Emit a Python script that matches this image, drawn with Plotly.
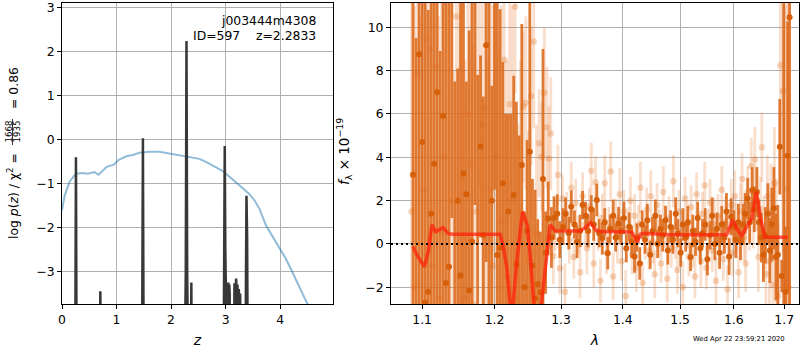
import plotly.graph_objects as go

# ---------------- left panel data: log p(z) ----------------
z_prior = [0.00, 0.05, 0.14, 0.23, 0.29, 0.38, 0.47, 0.60, 0.67, 0.76, 0.82, 0.95, 1.03, 1.18,
           1.30, 1.42, 1.60, 1.79, 1.97, 2.15, 2.33, 2.52, 2.64, 2.83, 2.95, 3.04, 3.13, 3.25,
           3.34, 3.43, 3.53, 3.62, 3.74, 3.86, 3.98, 4.10, 4.22, 4.34, 4.50, 4.60]
lp_prior = [-1.61, -1.27, -0.96, -0.81, -0.77, -0.76, -0.78, -0.74, -0.80, -0.70, -0.62, -0.57,
            -0.47, -0.38, -0.35, -0.30, -0.28, -0.28, -0.32, -0.36, -0.41, -0.44, -0.51, -0.64,
            -0.72, -0.81, -0.91, -1.04, -1.15, -1.23, -1.38, -1.57, -1.95, -2.20, -2.44, -2.70,
            -3.00, -3.31, -3.74, -4.00]

z_fit = [0.00, 0.240, 0.256, 0.270, 0.690, 0.703, 0.716, 1.465, 1.484, 1.500,
         2.245, 2.270, 2.283, 2.296, 2.320, 2.360, 2.372, 2.384,
         2.960, 2.975, 2.985, 2.995, 3.010, 3.035, 3.050, 3.060, 3.068, 3.075, 3.085,
         3.150, 3.163, 3.175, 3.194, 3.206, 3.218, 3.230, 3.242, 3.255, 3.267, 3.280,
         3.360, 3.372, 3.383, 3.395, 3.410, 4.97]
lp_fit = [-6, -6, -0.40, -6, -6, -3.45, -6, -6, 0.03, -6,
          -6, -3.0, 2.24, -3.0, -6, -6, -3.25, -6,
          -6, -2.5, -0.15, -2.5, -6, -6, -3.25, -3.6, -3.3, -3.5, -6,
          -6, -3.27, -3.9, -3.16, -3.8, -3.30, -3.9, -3.40, -3.9, -3.5, -6,
          -6, -2.0, -1.28, -2.2, -6, -6]

# ---------------- right panel data: spectrum ----------------
wave_dark = [1.088, 1.092, 1.096, 1.100, 1.104, 1.108, 1.112, 1.116, 1.120, 1.124,
             1.128, 1.132, 1.136, 1.140, 1.144, 1.148, 1.152, 1.156, 1.160, 1.164,
             1.168, 1.172, 1.176, 1.180, 1.184, 1.188, 1.192, 1.196, 1.200, 1.204,
             1.208, 1.212, 1.216, 1.220, 1.224, 1.228, 1.232, 1.236, 1.240, 1.244,
             1.248, 1.252, 1.256, 1.260, 1.264, 1.268, 1.272, 1.276,
             1.280, 1.285, 1.289, 1.294, 1.298, 1.303, 1.307, 1.312, 1.316, 1.321,
             1.325, 1.330, 1.334, 1.339, 1.343, 1.348, 1.352, 1.357, 1.361, 1.366,
             1.370, 1.375, 1.379, 1.384, 1.388, 1.393, 1.397, 1.402, 1.406, 1.411,
             1.415, 1.420, 1.424, 1.429, 1.433, 1.438, 1.442, 1.447, 1.451, 1.456,
             1.460, 1.465, 1.469, 1.474, 1.478, 1.483, 1.487, 1.492, 1.496, 1.501,
             1.505, 1.510, 1.514, 1.519, 1.523, 1.528, 1.532, 1.537, 1.541, 1.546,
             1.550, 1.555, 1.559, 1.564, 1.568, 1.573, 1.577, 1.582, 1.586, 1.591,
             1.595, 1.600, 1.604, 1.609, 1.613, 1.618, 1.622, 1.627, 1.631, 1.636,
             1.640, 1.645, 1.649, 1.654, 1.658, 1.662, 1.667, 1.671, 1.675, 1.679,
             1.683, 1.687, 1.691, 1.695, 1.699, 1.703, 1.707, 1.711]
flux_dark = [3.2, -3.5, 8.75, 4.7, -2.7, -2.2, 1.4, 3.7, 7.0, -3.1,
             5.9, -1.8, -1.05, 12.2, -4.5, 2.0, -1.46, 3.26, 2.29, -2.15,
             0.1, 11.8, -3.2, 4.5, 0.4, 9.17, -3.8, 2.0, 12.5, -0.51,
             -0.17, 2.8, -4.0, 1.5, -3.5, 2.26, -0.94, -5.0, 3.65, -2.0,
             0.6, 4.26, -1.0, -2.5, -1.86, -2.23, 3.0, -0.4,
             1.18, 0.3, 1.2, 1.39, 0.2, 0.8, 1.4, 0.5, 1.72, 0.9,
             0.1, 0.6, 1.8, 1.3, 0.6, 1.6, 0.9, 2.03, 0.5, 0.26,
             1.0, -0.43, 0.7, 1.3, 0.3, 0.95, 0.6, 1.2, -0.2, 0.8,
             0.1, -0.58, 0.3, -0.9, 0.9, 0.2, 1.1, -0.5, 0.6, 1.3,
             0.0, 0.7, 0.4, 1.1, -0.3, 0.8, 0.2, 1.4, 0.5, -0.4,
             0.9, 0.3, 1.0, -0.6, 0.6, 0.1, 1.2, -0.2, 0.5, 0.9,
             -0.7, 0.4, 1.3, 0.0, 0.7, -0.4, 0.9, 0.3, 1.5, -0.58,
             1.26, 0.8, 0.2, 1.0, 0.1, 0.9, 1.4, 2.1, 1.0, 2.49,
             1.6, 2.4, 1.0, 0.3, -0.5, 0.4, 1.4, -0.3, 0.9, 1.65,
             -0.6, -0.5, 4.49, -1.48, -3.0, -2.2, 4.07, 10.46]
err_dark = [15, 13, 12, 14, 14, 13, 12, 11, 13, 12,
            12, 13, 14, 11, 12, 6.1, 13, 12, 5.2, 12,
            11.5, 10, 11, 4.2, 6.4, 10, 15, 5.3, 10, 12,
            11, 5.6, 10, 4.5, 9.5, 5.5, 7.5, 10, 6.5, 3.5,
            4.2, 7.2, 4.0, 5.0, 3.0, 2.8, 6.0, 1.9,
            1.7, 1.4, 1.0, 0.9, 0.85, 0.85, 0.75, 0.75, 0.75, 0.65,
            0.75, 0.75, 0.65, 0.65, 0.75, 0.65, 0.75, 0.75, 0.65, 0.75,
            0.65, 0.75, 0.65, 0.75, 0.65, 0.75, 0.65, 0.75, 0.65, 0.65,
            0.75, 0.75, 0.65, 0.75, 0.65, 0.65, 0.75, 0.65, 0.65, 0.75,
            0.65, 0.65, 0.75, 0.65, 0.65, 0.75, 0.65, 0.75, 0.65, 0.65,
            0.75, 0.65, 0.75, 0.65, 0.75, 0.65, 0.75, 0.75, 0.65, 0.75,
            0.75, 0.65, 0.85, 0.75, 0.75, 0.75, 0.85, 0.75, 0.85, 0.85,
            0.85, 0.75, 0.85, 0.85, 0.85, 0.95, 0.95, 0.95, 0.95, 1.05,
            1.05, 1.15, 1.05, 1.15, 1.25, 1.3, 1.4, 1.5, 1.7, 1.9,
            2.0, 2.3, 2.2, 0.75, 15, 3.0, 6.2, 14]

wave_light = [1.086, 1.090, 1.094, 1.098, 1.102, 1.106, 1.110, 1.114, 1.118, 1.122,
              1.126, 1.130, 1.134, 1.138, 1.142, 1.146, 1.150, 1.154, 1.158, 1.162,
              1.166, 1.170, 1.174, 1.178, 1.182, 1.186, 1.190, 1.194, 1.198, 1.202,
              1.206, 1.210, 1.214, 1.218, 1.222, 1.226, 1.230, 1.234, 1.238, 1.242,
              1.246, 1.250, 1.254, 1.258, 1.262, 1.266, 1.270, 1.274, 1.278,
              1.281, 1.284, 1.288, 1.291, 1.295, 1.298, 1.302, 1.306, 1.309, 1.313,
              1.316, 1.320, 1.323, 1.327, 1.330, 1.334, 1.338, 1.341, 1.345, 1.348,
              1.352, 1.355, 1.359, 1.363, 1.366, 1.370, 1.373, 1.377, 1.380, 1.384,
              1.388, 1.391, 1.395, 1.398, 1.402, 1.405, 1.409, 1.413, 1.416, 1.420,
              1.423, 1.427, 1.430, 1.434, 1.438, 1.441, 1.445, 1.448, 1.452, 1.455,
              1.459, 1.463, 1.466, 1.470, 1.473, 1.477, 1.480, 1.484, 1.488, 1.491,
              1.495, 1.498, 1.502, 1.505, 1.509, 1.513, 1.516, 1.520, 1.523, 1.527,
              1.530, 1.534, 1.538, 1.541, 1.545, 1.548, 1.552, 1.555, 1.559, 1.563,
              1.566, 1.570, 1.573, 1.577, 1.580, 1.584, 1.588, 1.591, 1.595, 1.598,
              1.602, 1.605, 1.609, 1.613, 1.616, 1.620, 1.623, 1.627, 1.630, 1.634,
              1.638, 1.641, 1.645, 1.648, 1.652, 1.655, 1.659, 1.663, 1.666, 1.670,
              1.673, 1.677, 1.680, 1.684, 1.688, 1.692, 1.697, 1.701, 1.705, 1.709]
flux_light = [1.5, -2.0, 7.85, -3.5, 2.5, 9.5, 9.0, -1.0, 8.2, -2.5,
              0.5, 4.0, -3.0, 2.0, -4.0, 10.5, -1.5, 3.0, -2.5, 6.0,
              3.72, -2.8, 1.5, 12.5, 5.5, 6.26, -3.5, 2.5, -1.0, 4.0,
              -2.0, 1.0, 8.5, -1.5, 6.45, 2.0, 10.95, -2.5, 1.5, 6.34,
              6.5, -0.8, 6.83, 9.34, 0.5, 4.65, 4.03, 6.98, 5.38,
              3.95, 5.1, -0.55, 0.9, 3.18, -1.12, 2.1, -2.2, 1.4, 0.2,
              2.6, -0.6, 1.9, 0.4, -1.3, 2.2, 0.9, -0.2, 1.7, 3.38,
              -0.9, 2.85, 0.6, -1.7, 1.2, 2.8, -0.4, 0.8, 3.34, -1.5,
              1.1, 0.2, 2.3, -0.8, 1.5, -2.4, 0.7, 2.0, -0.5, 1.3,
              -1.1, 0.9, 2.6, -1.8, 0.4, 1.6, -0.3, 2.2, 0.1, -1.4,
              1.8, 0.5, -0.9, 2.4, 0.8, -1.6, 1.2, -0.2, 2.9, 0.3,
              -1.2, 1.5, 0.6, -2.0, 2.1, 0.9, -0.6, 1.7, 0.0, -1.5,
              2.3, 0.4, -0.8, 1.4, 2.7, -1.1, 0.7, 1.9, -0.3, 0.9,
              -1.7, 1.3, 0.2, 2.5, -0.7, 1.0, -2.1, 0.6, 1.8, -0.4,
              2.2, 0.8, -1.3, 1.5, 3.0, 0.3, -0.9, 2.4, 1.1, 3.6,
              1.2, 3.9, 2.0, -0.6, 1.6, 4.46, 0.5, -1.4, 2.2, -0.8,
              1.5, -1.9, 2.8, 0.0, -2.4, 8.25, 7.06, -1.0, 2.5, -2.0]
err_light = [14, 13, 12, 14, 12, 13, 12, 14, 11, 13,
             12, 13, 14, 11, 12, 10, 13, 12, 11, 12,
             11, 12, 13, 10, 11, 10, 12, 11, 12, 10,
             11, 10, 9, 10, 5, 9, 4.0, 8, 7, 3.5,
             4.0, 6, 3.2, 4.0, 5, 2.5, 2.5, 3.0, 2.8,
             2.4, 2.6, 1.3, 1.2, 1.4, 1.2, 1.1, 1.3, 1.0, 1.1,
             1.2, 1.0, 1.1, 0.9, 1.2, 1.1, 1.0, 1.2, 0.9, 1.3,
             1.1, 1.2, 0.9, 1.0, 1.1, 1.3, 1.0, 0.9, 1.4, 1.1,
             1.0, 1.1, 1.2, 0.9, 1.0, 1.2, 1.0, 1.1, 0.9, 1.0,
             1.1, 0.9, 1.2, 1.0, 1.1, 1.0, 0.9, 1.2, 1.0, 1.1,
             1.0, 1.1, 0.9, 1.2, 1.0, 1.1, 1.0, 0.9, 1.2, 1.0,
             1.1, 1.0, 0.9, 1.2, 1.0, 1.1, 0.9, 1.0, 1.1, 1.0,
             1.0, 1.1, 1.2, 1.0, 1.1, 1.0, 0.9, 1.1, 1.0, 1.2,
             1.1, 1.0, 1.2, 1.1, 1.0, 1.2, 1.1, 1.0, 1.2, 1.1,
             1.2, 1.1, 1.2, 1.3, 1.2, 1.1, 1.3, 1.2, 1.4, 1.3,
             1.4, 1.5, 1.4, 1.6, 1.5, 1.6, 1.7, 1.8, 1.9, 2.0,
             2.2, 2.4, 2.6, 3.0, 3.4, 6.0, 7.5, 12, 9, 14]

wave_model = [1.088, 1.093, 1.103, 1.108, 1.113, 1.118, 1.128, 1.135, 1.140, 1.208,
              1.212, 1.218, 1.225, 1.233, 1.241, 1.248, 1.253, 1.260, 1.268, 1.276,
              1.283, 1.291, 1.330, 1.338, 1.347, 1.356, 1.365, 1.415, 1.420, 1.425,
              1.430, 1.436, 1.480, 1.586, 1.598, 1.606, 1.615, 1.625, 1.635, 1.644,
              1.652, 1.661, 1.707]
flux_model = [-0.12, -0.51, -1.05, -0.35, 0.88, 0.57, 0.75, 0.49, 0.45, 0.45,
              0.0, -1.12, -3.5, -0.66, 1.49, 0.88, -0.66, -3.5, -3.2, -1.1,
              0.88, 0.61, 0.60, 0.75, 0.98, 0.62, 0.57, 0.55, 0.35, 0.08,
              0.45, 0.49, 0.43, 0.42, 1.11, 0.70, 0.37, 0.75, 1.18, 2.41,
              1.20, 0.31, 0.31]

wave_ticks = [1.1, 1.2, 1.3, 1.4, 1.5, 1.6, 1.7]

# ---------------- figure ----------------
FONT = "DejaVu Sans"
FS = 12.4
W, H = 800, 350
L, R, T, B = 62, 1, 3, 46
PW, PH = W - L - R, H - T - B

def px(xp):
    return (xp - L) / PW

def py(yp):
    return (H - B - yp) / PH

fig = go.Figure()

fig.add_trace(go.Scatter(x=z_prior, y=lp_prior, mode="lines",
                         line=dict(color="rgba(31,119,180,0.5)", width=2),
                         xaxis="x", yaxis="y", showlegend=False, hoverinfo="skip"))
fig.add_trace(go.Scatter(x=z_fit, y=lp_fit, mode="lines",
                         line=dict(color="#383838", width=2.5),
                         xaxis="x", yaxis="y", showlegend=False, hoverinfo="skip"))

fig.add_trace(go.Scatter(x=wave_light, y=flux_light, mode="markers",
                         marker=dict(color="rgba(222,110,30,0.28)", size=6.5, line=dict(width=0)),
                         error_y=dict(type="data", array=err_light, visible=True,
                                      color="rgba(230,125,50,0.25)", thickness=2.8, width=0),
                         xaxis="x2", yaxis="y2", showlegend=False, hoverinfo="skip"))
fig.add_trace(go.Scatter(x=wave_dark, y=flux_dark, mode="markers",
                         marker=dict(color="rgb(214,96,10)", size=6, line=dict(width=0)),
                         error_y=dict(type="data", array=err_dark, visible=True,
                                      color="rgba(220,105,25,0.88)", thickness=2.8, width=0),
                         xaxis="x2", yaxis="y2", showlegend=False, hoverinfo="skip"))
fig.add_trace(go.Scatter(x=wave_model, y=flux_model, mode="lines",
                         line=dict(color="rgba(255,30,10,0.72)", width=3.5),
                         xaxis="x2", yaxis="y2", showlegend=False, hoverinfo="skip"))

axis_common = dict(showline=True, linecolor="black", linewidth=1, mirror=True,
                   ticks="outside", ticklen=4, tickcolor="black", tickwidth=1,
                   showgrid=True, gridcolor="#b0b0b0", gridwidth=1, zeroline=False,
                   ticklabeloverflow="allow",
                   tickfont=dict(family=FONT, size=FS, color="black"))

fig.update_layout(
    width=W, height=H, margin=dict(l=L, r=R, t=T, b=B),
    paper_bgcolor="white", plot_bgcolor="white",
    font=dict(family=FONT, size=FS, color="black"),
    xaxis=dict(domain=[0, (333 - L) / PW], range=[0, 4.97], tickmode="linear", tick0=0, dtick=1,
               anchor="y",
               title=dict(text="<i>z</i>", font=dict(family=FONT, size=14), standoff=9),
               **axis_common),
    yaxis=dict(domain=[0, 1], range=[-3.74, 3.105], tickmode="linear", tick0=0, dtick=1,
               anchor="x", **axis_common),
    xaxis2=dict(domain=[(391 - L) / PW, 1], type="log", range=[0.02512, 0.23817],
                tickvals=wave_ticks, ticktext=[str(v) for v in wave_ticks], anchor="y2",
                title=dict(text="<i>λ</i>", font=dict(family=FONT, size=14), standoff=9),
                **axis_common),
    yaxis2=dict(domain=[0, 1], range=[-2.77, 11.12], tickmode="linear", tick0=0, dtick=2,
                anchor="x2", **axis_common),
)

# dotted zero line on spectrum
fig.add_shape(type="line", xref="x2 domain", yref="y2", x0=0, x1=1, y0=0, y1=0,
              line=dict(color="black", width=2, dash="2px,3px"), layer="above")

# left panel text
fig.add_annotation(text="j003444m4308", xref="paper", yref="paper",
                   x=px(318), y=py(20), xanchor="right", yanchor="middle",
                   showarrow=False, font=dict(family=FONT, size=FS))
fig.add_annotation(text="ID=597\u00a0\u00a0\u00a0\u00a0z=2.2833", xref="paper", yref="paper",
                   x=px(318), y=py(35), xanchor="right", yanchor="middle",
                   showarrow=False, font=dict(family=FONT, size=FS))

# left y label (rotated) with stacked fraction
fig.add_annotation(text="log <i>p</i>(<i>z</i>) / χ<sup>2</sup> =", xref="paper", yref="paper",
                   x=px(13), y=py(241), xanchor="center", yanchor="bottom", textangle=-90,
                   showarrow=False, font=dict(family=FONT, size=FS))
fig.add_annotation(text="1668", xref="paper", yref="paper",
                   x=px(8.5), y=py(132), xanchor="center", yanchor="middle", textangle=-90,
                   showarrow=False, font=dict(family=FONT, size=8.6))
fig.add_annotation(text="1935", xref="paper", yref="paper",
                   x=px(16.5), y=py(132), xanchor="center", yanchor="middle", textangle=-90,
                   showarrow=False, font=dict(family=FONT, size=8.6))
fig.add_shape(type="line", xref="paper", yref="paper", x0=px(12.5), x1=px(12.5),
              y0=py(119), y1=py(145), line=dict(color="black", width=0.8))
fig.add_annotation(text="= 0.86", xref="paper", yref="paper",
                   x=px(13), y=py(111), xanchor="center", yanchor="bottom", textangle=-90,
                   showarrow=False, font=dict(family=FONT, size=FS))

# right y label
fig.add_annotation(text="<i>f</i><sub>λ</sub> × 10<sup>−19</sup>", xref="paper", yref="paper",
                   x=px(344), y=py(152), xanchor="center", yanchor="middle", textangle=-90,
                   showarrow=False, font=dict(family=FONT, size=13.5))

# timestamp
fig.add_annotation(text="Wed Apr 22 23:59:21 2020", xref="paper", yref="paper",
                   x=px(787), y=py(339), xanchor="right", yanchor="middle",
                   showarrow=False, font=dict(family=FONT, size=6.8))

fig.write_html("out.html")
